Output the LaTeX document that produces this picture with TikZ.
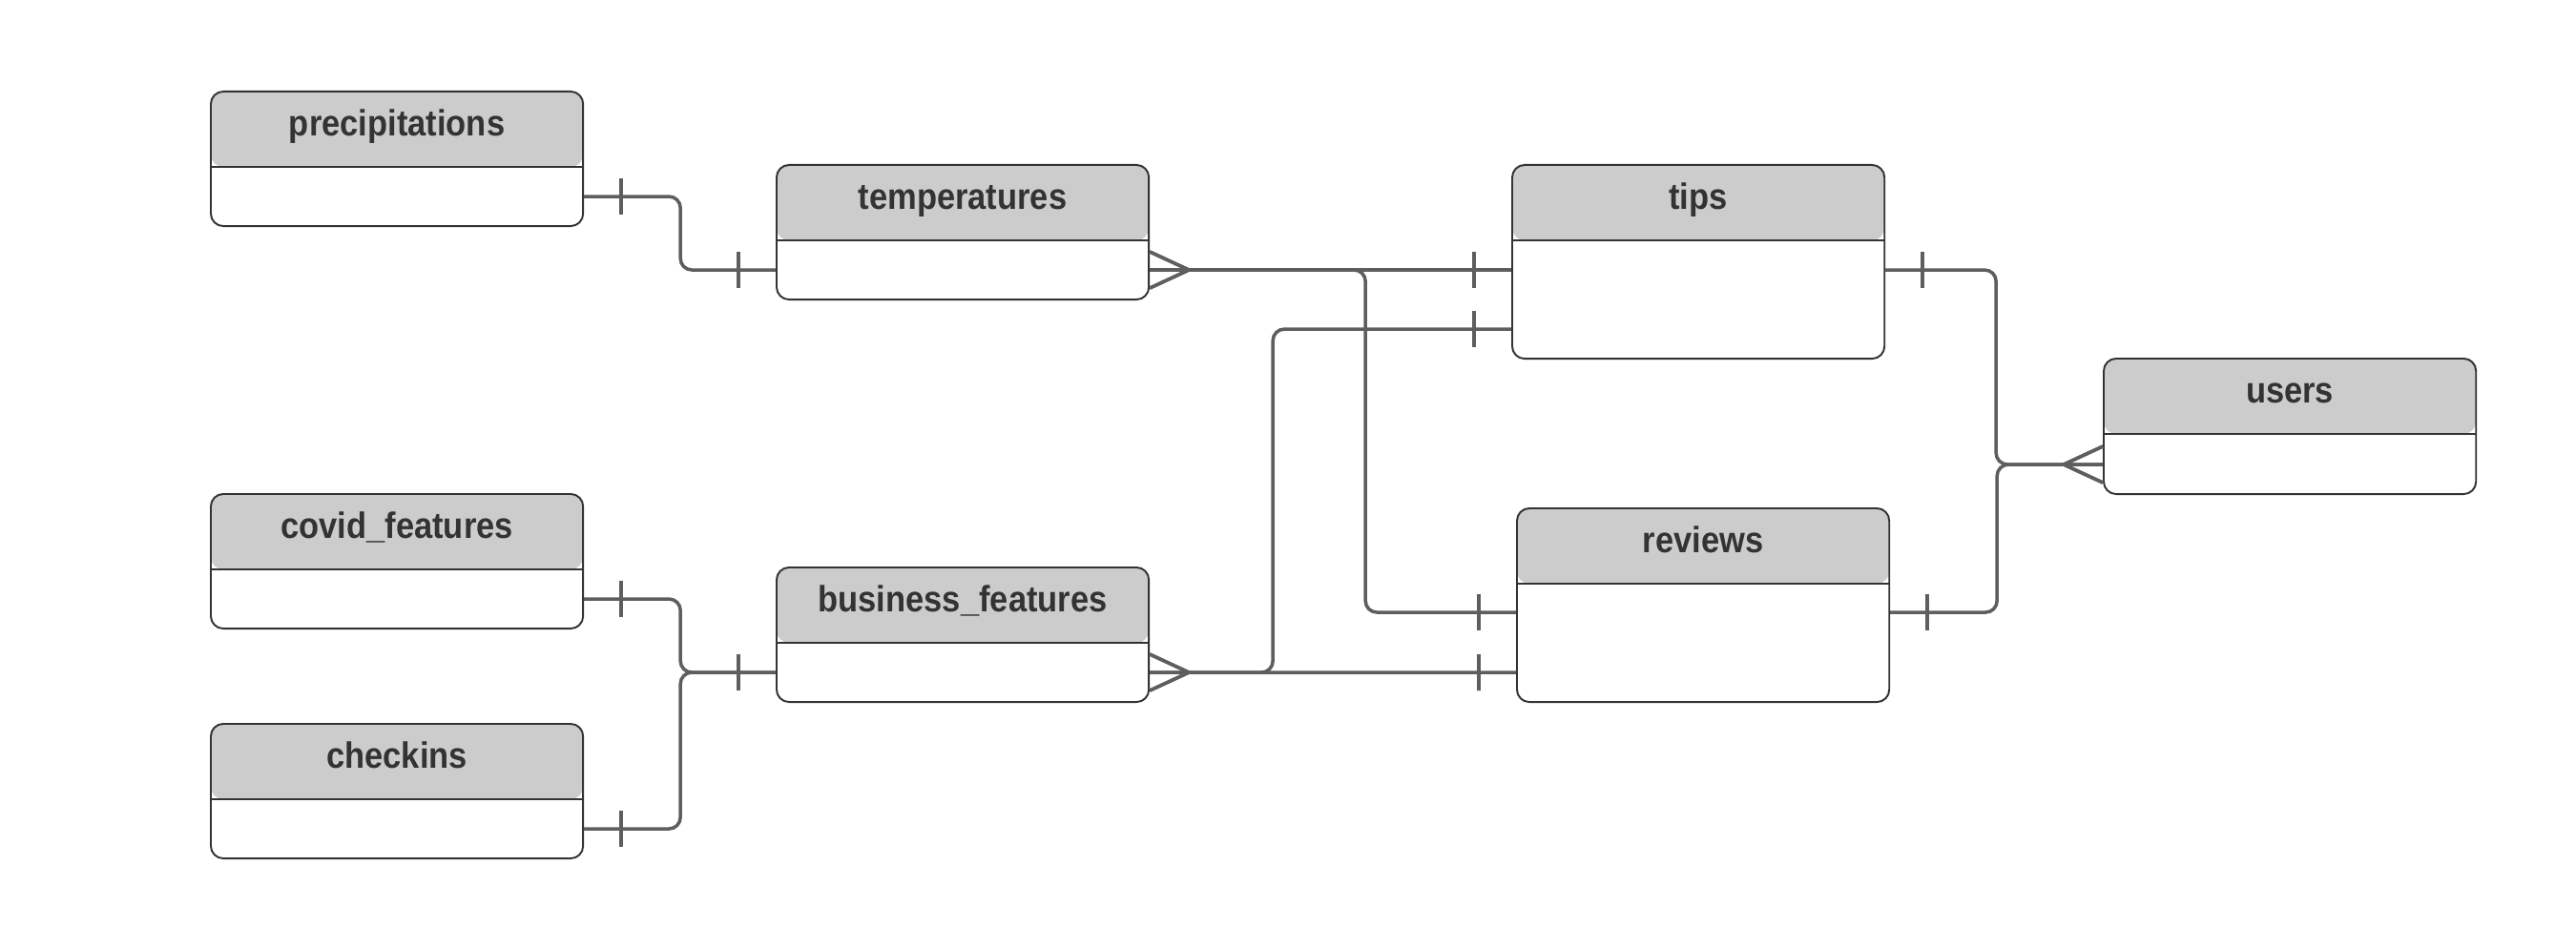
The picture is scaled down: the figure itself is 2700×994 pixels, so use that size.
\documentclass[tikz,border=0pt]{standalone}
\usepackage{fontspec}
\setmainfont{Liberation Sans}
\newfontfamily\ttlfont[FakeStretch=0.9]{Liberation Sans}
\usetikzlibrary{decorations.markings}
\definecolor{hdr}{HTML}{CCCCCC}
\definecolor{bordc}{HTML}{333333}
\definecolor{lc}{HTML}{5E5E5E}
\definecolor{txt}{HTML}{333333}
\tikzset{
  tbl/.style={draw=bordc, line width=0.55pt, rounded corners=0.13cm,
    minimum width=3.9cm, minimum height=#1, inner sep=0pt, anchor=north west,
    path picture={
      \fill[hdr] (path picture bounding box.north west) rectangle ([yshift=-0.79cm]path picture bounding box.north east);
      \draw[bordc, line width=0.55pt] ([yshift=-0.79cm]path picture bounding box.north west) -- ([yshift=-0.79cm]path picture bounding box.north east);
    }},
  ttl/.style={anchor=base, inner sep=0pt, text=txt, font=\ttlfont\bfseries\fontsize{10.9}{12}\selectfont},
  conn/.style={draw=lc, line width=1pt, rounded corners=0.12cm},
  barstart/.style={postaction={decorate, decoration={markings,
      mark=at position 0.39cm with {\draw[lc, line width=1pt, sharp corners] (0,-0.19cm) -- (0,0.19cm);}}}},
  barend/.style={postaction={decorate, decoration={markings,
      mark=at position -0.39cm with {\draw[lc, line width=1pt, sharp corners] (0,-0.19cm) -- (0,0.19cm);}}}},
  crowstart/.style={postaction={decorate, decoration={markings,
      mark=at position 0 with {\draw[lc, line width=1pt, sharp corners] (0,0.19cm) -- (0.41cm,0) -- (0,-0.19cm);}}}},
  crowend/.style={postaction={decorate, decoration={markings,
      mark=at position 1 with {\draw[lc, line width=1pt, sharp corners] (0,0.19cm) -- (-0.41cm,0) -- (0,-0.19cm);}}}},
}
\begin{document}
\begin{tikzpicture}[x=0.01cm, y=-0.01cm]
\useasboundingbox[fill=white] (0,0) rectangle (2700,994);

% tables
\node[tbl=1.41cm] (precip) at (220,95) {};
\node[tbl=1.41cm] (temps) at (813,172) {};
\node[tbl=2.03cm] (tips) at (1584,172) {};
\node[tbl=1.42cm] (users) at (2204,375) {};
\node[tbl=1.41cm] (covid) at (220,517) {};
\node[tbl=1.41cm] (business) at (813,594) {};
\node[tbl=2.03cm] (reviews) at (1589,532) {};
\node[tbl=1.41cm] (checkins) at (220,758) {};

% titles
\node[ttl] (precipT) at ([yshift=-0.47cm]precip.north) {precipitations};
\node[ttl] (tempsT) at ([yshift=-0.47cm]temps.north) {temperatures};
\node[ttl] (tipsT) at ([yshift=-0.47cm]tips.north) {tips};
\node[ttl] (usersT) at ([yshift=-0.47cm]users.north) {users};
\node[ttl] (covidT) at ([yshift=-0.47cm]covid.north) {covid\_features};
\node[ttl] (businessT) at ([yshift=-0.47cm]business.north) {business\_features};
\node[ttl] (reviewsT) at ([yshift=-0.47cm]reviews.north) {reviews};
\node[ttl] (checkinsT) at ([yshift=-0.47cm]checkins.north) {checkins};

% connectors
\draw[conn, barstart, barend] ([yshift=-0.395cm]precip.east) -- ++(101,0) |- ([yshift=-0.395cm]temps.west);
\draw[conn, crowstart, barend] ([yshift=-0.395cm]temps.east) -- ([yshift=-0.085cm]tips.west);
\draw[conn, crowstart, barend] ([yshift=-0.395cm]temps.east) -- ++(226,0) |- ([yshift=-0.075cm]reviews.west);
\draw[conn, crowstart, barend] ([yshift=-0.395cm]business.east) -- ++(129,0) |- ([yshift=-0.705cm]tips.west);
\draw[conn, crowstart, barend] ([yshift=-0.395cm]business.east) -- ([yshift=-0.705cm]reviews.west);
\draw[conn, barstart, barend] ([yshift=-0.395cm]covid.east) -- ++(101,0) |- ([yshift=-0.395cm]business.west);
\draw[conn, barstart] ([yshift=-0.395cm]checkins.east) -- ++(101,0) |- ([yshift=-0.395cm]business.west);
\draw[conn, barstart, crowend] ([yshift=-0.085cm]tips.east) -- ++(116,0) |- ([yshift=-0.40cm]users.west);
\draw[conn, barstart, crowend] ([yshift=-0.075cm]reviews.east) -- ++(112,0) |- ([yshift=-0.40cm]users.west);
\end{tikzpicture}
\end{document}
